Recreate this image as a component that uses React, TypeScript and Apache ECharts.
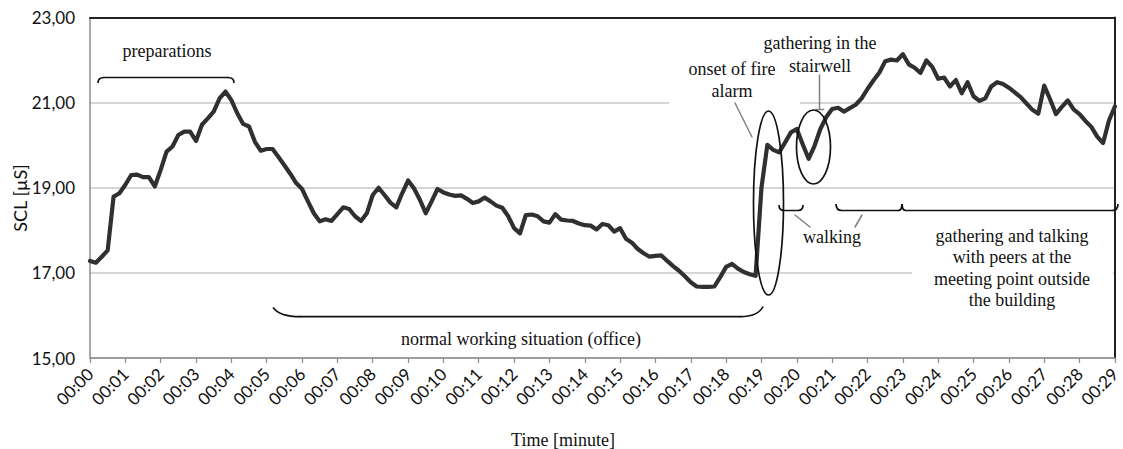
import React, { useEffect, useRef } from "react";
import * as echarts from "echarts";

// SCL samples, one every 10 seconds, from 00:00 to 00:29
const SAMPLE_SECONDS = 10;
const scl = [
  17.28, 17.24, 17.38, 17.53, 18.79, 18.87, 19.07, 19.3, 19.31, 19.25,
  19.25, 19.03, 19.42, 19.85, 19.97, 20.24, 20.32, 20.32, 20.1, 20.48,
  20.63, 20.79, 21.1, 21.26, 21.06, 20.75, 20.5, 20.44, 20.08, 19.87,
  19.91, 19.91, 19.72, 19.53, 19.33, 19.11, 18.97, 18.68, 18.4, 18.21,
  18.26, 18.22, 18.38, 18.54, 18.5, 18.33, 18.22, 18.4, 18.83, 19.0,
  18.83, 18.65, 18.54, 18.87, 19.17, 18.99, 18.72, 18.4, 18.68, 18.97,
  18.89, 18.84, 18.81, 18.82, 18.74, 18.64, 18.68, 18.77, 18.68, 18.58,
  18.53, 18.33, 18.05, 17.93, 18.36, 18.37, 18.33, 18.21, 18.18, 18.38,
  18.25, 18.23, 18.22, 18.16, 18.12, 18.11, 18.02, 18.15, 18.12, 17.97,
  18.05, 17.8, 17.71, 17.56, 17.46, 17.38, 17.4, 17.41, 17.28, 17.16,
  17.05, 16.92, 16.78, 16.68, 16.67, 16.67, 16.68, 16.9, 17.14, 17.21,
  17.1, 17.02, 16.97, 16.93, 19.0, 20.01, 19.89, 19.83, 20.06, 20.3,
  20.38, 20.02, 19.68, 19.98, 20.38, 20.66, 20.85, 20.88, 20.79, 20.87,
  20.95, 21.1, 21.32, 21.52, 21.7, 21.97, 22.01, 21.99, 22.14, 21.9,
  21.82, 21.7, 21.99, 21.84, 21.56, 21.59, 21.38, 21.53, 21.22, 21.48,
  21.15, 21.04, 21.1, 21.38, 21.48, 21.44, 21.35, 21.24, 21.13, 20.98,
  20.83, 20.74, 21.4, 21.08, 20.73, 20.9, 21.05, 20.84, 20.73, 20.57,
  20.43, 20.2, 20.05, 20.58, 20.91,
];

const tickLabels = [
  "00:00", "00:01", "00:02", "00:03", "00:04", "00:05", "00:06", "00:07", "00:08", "00:09",
  "00:10", "00:11", "00:12", "00:13", "00:14", "00:15", "00:16", "00:17", "00:18", "00:19",
  "00:20", "00:21", "00:22", "00:23", "00:24", "00:25", "00:26", "00:27", "00:28", "00:29",
];

const yMin = 15;
const yMax = 23;
const yStep = 2;

const annotations = {
  preparations: "preparations",
  normal: "normal working situation (office)",
  onset: "onset of fire\nalarm",
  stairwell: "gathering in the\nstairwell",
  walking: "walking",
  gathering: "gathering and talking\nwith peers at the\nmeeting point outside\nthe building",
  xName: "Time [minute]",
  yName: "SCL [µS]",
};

export default function App() {
  const ref = useRef<HTMLDivElement>(null);

  useEffect(() => {
    const chart = echarts.init(ref.current!, null, { renderer: "svg" });
    const serif = "'Liberation Serif', 'Times New Roman', serif";
    const sans = "Lato, 'Open Sans', sans-serif";
    const ink = "#111";
    const grey = "#808080";

    const seg = (x1: number, y1: number, x2: number, y2: number, stroke = ink, w = 1.7) => ({
      type: "line",
      z: 5,
      shape: { x1, y1, x2, y2 },
      style: { stroke, lineWidth: w, lineCap: "round" },
    });
    const curve = (x1: number, y1: number, cx: number, cy: number, x2: number, y2: number) => ({
      type: "bezierCurve",
      z: 5,
      shape: { x1, y1, cpx1: cx, cpy1: cy, x2, y2 },
      style: { stroke: ink, lineWidth: 1.7, fill: null },
    });
    const txt = (text: string, x: number, y: number, size = 18, lh = 22) => ({
      type: "text",
      z: 6,
      x,
      y,
      style: {
        text,
        font: `${size}px ${serif}`,
        fill: ink,
        align: "center",
        verticalAlign: "middle",
        lineHeight: lh,
      },
    });

    const data = scl.map((v, i) => [(i * SAMPLE_SECONDS) / 60, v]);

    chart.setOption({
      animation: false,
      backgroundColor: "#fff",
      grid: { left: 90, right: 5, top: 17.5, bottom: 91, containLabel: false },
      xAxis: [
        {
          type: "value",
          min: 0,
          max: tickLabels.length - 1,
          interval: 1,
          position: "bottom",
          axisLine: { onZero: false, lineStyle: { color: "#8c8c8c", width: 1.5 } },
          axisTick: { show: true, length: 5, lineStyle: { color: "#8c8c8c", width: 1.2 } },
          axisLabel: {
            rotate: 45,
            margin: 13,
            color: ink,
            fontFamily: sans,
            fontSize: 17,
            formatter: (v: number) => tickLabels[Math.round(v)] ?? "",
          },
          splitLine: { show: false },
        },
        {
          type: "value",
          min: 0,
          max: tickLabels.length - 1,
          position: "top",
          axisLine: { show: true, onZero: false, lineStyle: { color: "#222", width: 2 } },
          axisTick: { show: false },
          axisLabel: { show: false },
          splitLine: { show: false },
        },
      ],
      yAxis: [
        {
          type: "value",
          min: yMin,
          max: yMax,
          interval: yStep,
          axisLine: { show: true, onZero: false, lineStyle: { color: "#8c8c8c", width: 1.5 } },
          axisTick: { show: false },
          axisLabel: {
            margin: 15,
            color: ink,
            fontFamily: sans,
            fontSize: 17,
            formatter: (v: number) => v.toFixed(2).replace(".", ","),
          },
          splitLine: { show: true, lineStyle: { color: "#c8c8c8", width: 1.5 } },
        },
        {
          type: "value",
          min: yMin,
          max: yMax,
          position: "right",
          axisLine: { show: true, onZero: false, lineStyle: { color: "#222", width: 2 } },
          axisTick: { show: false },
          axisLabel: { show: false },
          splitLine: { show: false },
        },
      ],
      series: [
        {
          type: "line",
          xAxisIndex: 0,
          yAxisIndex: 0,
          data,
          symbol: "none",
          showSymbol: false,
          z: 3,
          lineStyle: { color: "#303030", width: 4.2, join: "round", cap: "round" },
        },
      ],
      graphic: [
        // white label boxes that interrupt the grid lines
        { type: "rect", z: 1, shape: { x: 669, y: 56, width: 131, height: 50 }, style: { fill: "#fff" } },
        { type: "rect", z: 1, shape: { x: 912, y: 222, width: 201, height: 90 }, style: { fill: "#fff" } },

        // preparations brace
        curve(98, 83, 98, 77.5, 104, 77.5),
        seg(104, 77.5, 228, 77.5),
        curve(228, 77.5, 234, 77.5, 234, 83),
        txt(annotations.preparations, 167, 51),

        // normal working brace
        curve(273, 307.5, 280, 316.7, 300, 316.7),
        seg(300, 316.7, 740, 316.7),
        curve(740, 316.7, 758, 316.7, 763, 306.5),
        txt(annotations.normal, 521, 339),

        // onset of fire alarm
        txt(annotations.onset, 732, 80, 18, 22),
        seg(735, 103, 752, 137, grey, 1.5),
        {
          type: "ellipse",
          z: 7,
          shape: { cx: 768.5, cy: 203, rx: 15, ry: 92 },
          style: { fill: null, stroke: ink, lineWidth: 1.7 },
        },

        // stairwell
        txt(annotations.stairwell, 820, 54, 18, 23),
        seg(819.5, 75, 819.5, 109.5, grey, 1.5),
        seg(816, 109.5, 823.5, 109.5, grey, 1.5),
        {
          type: "ellipse",
          z: 7,
          shape: { cx: 813.5, cy: 147, rx: 17, ry: 37 },
          style: { fill: null, stroke: ink, lineWidth: 1.7 },
        },

        // walking brace
        curve(779, 205, 779, 210.5, 784, 210.5),
        seg(784, 210.5, 798, 210.5),
        curve(798, 210.5, 803, 210.5, 803, 205),
        txt(annotations.walking, 832, 237),
        seg(795, 215, 810, 227, grey, 1.5),
        seg(862, 215, 855, 227, grey, 1.5),

        // gathering brace
        curve(836, 204, 836, 210.5, 842, 210.5),
        seg(842, 210.5, 898, 210.5),
        curve(898, 210.5, 902, 210.5, 902, 204),
        curve(902, 204, 902, 210.5, 906, 210.5),
        seg(906, 210.5, 1112, 210.5),
        curve(1112, 210.5, 1118, 210.5, 1118, 204),
        txt(annotations.gathering, 1012, 268, 18, 21.3),

        // axis names
        txt(annotations.xName, 563, 440, 18),
        {
          type: "text",
          z: 6,
          x: 20,
          y: 198,
          rotation: Math.PI / 2,
          style: {
            text: annotations.yName,
            font: `18px ${sans}`,
            fill: ink,
            align: "center",
            verticalAlign: "middle",
          },
        },
      ],
    });

    return () => chart.dispose();
  }, []);

  return (
    <div
      ref={ref}
      style={{ position: "fixed", left: 0, top: 0, width: 1123, height: 449, background: "#fff" }}
    />
  );
}
